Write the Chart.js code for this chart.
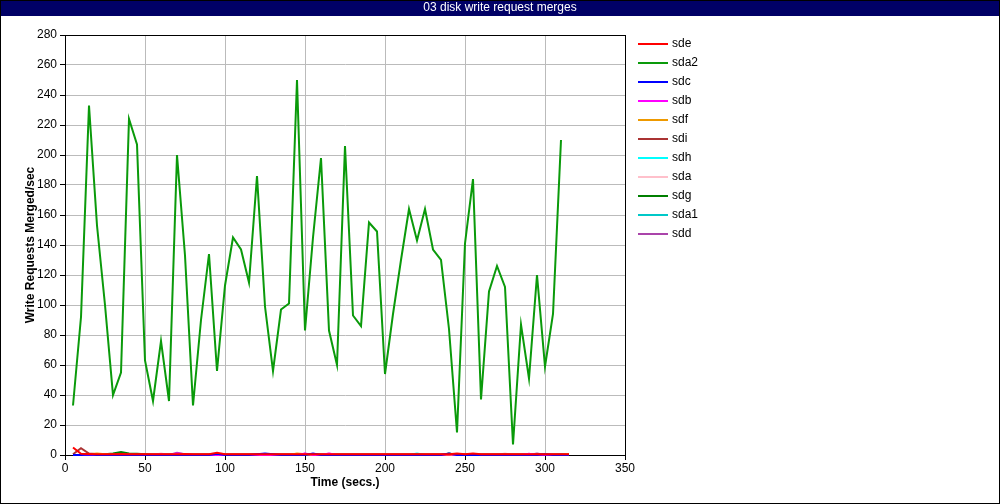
<!DOCTYPE html>
<html>
<head>
<meta charset="utf-8">
<script src="https://cdn.jsdelivr.net/npm/chart.js@4/dist/chart.umd.min.js"></script>
<style>
  body { margin: 0; background: #fff; }
  #wrap { width: 1000px; height: 504px; }
</style>
</head>
<body>
<div id="wrap"><canvas id="merges" width="1000" height="504"></canvas></div>
<script>
"use strict";

// time stamps (secs.)
var times = [5, 10, 15, 20, 25, 30, 35, 40, 45, 50, 55, 60, 65, 70, 75, 80, 85, 90, 95, 100,
  105, 110, 115, 120, 125, 130, 135, 140, 145, 150, 155, 160, 165, 170, 175, 180, 185, 190, 195, 200,
  205, 210, 215, 220, 225, 230, 235, 240, 245, 250, 255, 260, 265, 270, 275, 280, 285, 290, 295, 300,
  305, 310, 315];

var xTicks = [0, 50, 100, 150, 200, 250, 300, 350];
var yTicks = [0, 20, 40, 60, 80, 100, 120, 140, 160, 180, 200, 220, 240, 260, 280];

var devices = ["sde", "sda2", "sdc", "sdb", "sdf", "sdi", "sdh", "sda", "sdg", "sda1", "sdd"];
var colours = ["#ff0000", "#0a9a0a", "#0000ff", "#ff00ff", "#ee9900", "#aa3333", "#00ffff",
  "#ffc0cb", "#007f00", "#00c8c8", "#aa44aa"];

var sde = [5, 0.8, 0.6, 0.5, 0.5, 0.5, 0.6, 0.5, 0.5, 0.5, 0.5, 0.5, 0.5, 0.5, 0.6, 0.5, 0.5, 0.5, 1.5, 0.5,
  0.5, 0.5, 0.5, 0.5, 0.5, 0.5, 0.5, 0.5, 0.5, 0.5, 0.5, 0.5, 0.5, 0.5, 0.5, 0.5, 0.5, 0.5, 0.5, 0.5,
  0.5, 0.5, 0.5, 0.5, 0.5, 0.5, 0.5, 0.5, 1, 0.5, 1, 0.5, 0.5, 0.5, 0.5, 0.5, 0.5, 0.5, 0.5, 0.5,
  0.5, 0.5, 0.5];
var sda2 = [33, 92, 233, 153, 100, 40, 55, 224, 207, 63, 36, 76, 36, 200, 133, 33, 90, 134, 56, 113,
  145, 137, 115, 186, 99, 56, 97, 101, 250, 83, 145, 198, 83, 60, 206, 93, 86, 155, 149, 54,
  94, 130, 164, 143, 164, 137, 130, 84, 15, 141, 184, 37, 109, 126, 112, 7, 87, 51, 120, 59,
  94, 210];
var sdc = [0, 0, 0.3, 0, 0, 0, 0, 0, 0, 0, 0, 0, 0, 0, 0, 0, 0, 0, 0.8, 0,
  0, 0, 0, 0.5, 1, 0.5, 0, 0, 0, 0, 1, 0, 0, 0, 0, 0, 0, 0, 0, 0,
  0, 0, 0, 0, 0, 0, 0, 1, 0, 0, 0, 0, 0, 0, 0, 0, 0, 0, 0, 0.5,
  0, 0, 0];
var sdb = [0, 0, 0, 0, 0, 0, 0, 0, 0, 0, 0, 0.3, 0, 1, 0.5, 0, 0, 0, 0, 0,
  0, 0, 0, 0, 0, 0, 0, 0, 0, 1, 0, 0, 1, 0, 0, 0, 0, 0, 0, 0,
  0, 0, 0, 0, 0, 0, 0, 0.5, 0, 0, 0, 0, 0, 0, 0, 0, 0, 0.8, 0, 0,
  0, 0, 0];
var sdf = [0, 0, 0.5, 1, 0.5, 0, 0, 0, 0, 0, 0, 0, 0, 0, 0, 0, 0, 0, 0, 0,
  0, 0, 0, 0, 0, 0, 0, 0, 1, 0.5, 0, 0, 0, 0, 0, 0, 0, 0, 0, 0,
  0, 0, 0, 0, 0, 0, 0, 0, 0, 0, 0, 0, 0, 0, 0, 0, 0, 0, 0, 0,
  0, 0, 0.5];
var sdi = [0.5, 4.5, 1, 0.5, 0.5, 0.5, 0.5, 0.5, 0.5, 0.5, 0.5, 0.5, 0.5, 0.5, 0.5, 0.5, 0.5, 0.5, 0.5, 0.5,
  0.5, 0.5, 0.5, 0.5, 0.5, 0.5, 0.5, 0.5, 0.5, 0.5, 0.5, 0.5, 0.5, 0.5, 0.5, 0.5, 0.5, 0.5, 0.5, 0.5,
  0.5, 0.5, 0.5, 0.5, 0.5, 0.5, 0.5, 0.5, 0.5, 0.5, 0.5, 0.5, 0.5, 0.5, 0.5, 0.5, 0.5, 0.5, 0.5, 0.5,
  0.5, 0.5, 0.5];
var sdh = [0, 0, 0, 0, 0, 0, 0, 0, 0, 0, 0, 0, 0, 0, 0, 0, 0, 0, 0, 0,
  0, 0, 0, 0, 0, 0, 0, 0, 0, 0, 0, 0, 0, 0, 0, 0, 0, 0, 0, 0,
  0, 0, 0, 1, 0, 0, 0, 0, 0, 0, 0, 0, 0, 0, 0, 0, 0, 0, 0, 0,
  0, 0.5, 0];
var sda = [0, 0, 0, 0, 0, 0, 0, 0, 0, 0, 0, 1, 0, 0, 0, 0, 0, 0, 0, 0,
  0, 0, 0, 0, 0, 0, 0, 0, 0, 0, 0, 0, 1, 0, 0, 0, 0, 0, 0, 0,
  0, 0, 0, 0, 0, 0, 0, 0, 0, 0, 0, 0, 0, 0, 1, 0, 0, 0, 0, 0,
  0, 0, 0];
var sdg = [0, 0, 0, 0, 0.5, 1, 2, 1, 0.8, 0.5, 0, 0, 0, 0, 0, 0, 0, 0, 0, 0,
  0, 0, 0, 0, 0, 0, 0, 0, 0, 0, 0, 0, 0, 0, 0, 0, 0, 0, 0, 0,
  0, 0, 0, 0, 0, 0, 0, 1, 0, 0, 0, 0, 0, 0, 0, 0, 0, 0, 0, 0,
  0, 0, 0];
var sda1 = [0, 0, 0, 0, 0, 0, 0, 0, 0, 0, 0, 0, 0, 0, 0, 0, 0, 0, 0, 0,
  0, 0, 0, 0, 0, 0, 0, 0, 0, 0, 0, 0, 0, 0, 0, 0, 0, 0, 0, 0,
  0, 0, 0, 0, 0, 0, 0, 0, 0, 0, 0, 0, 0, 0, 0, 0, 0, 0, 0, 0,
  0, 0, 0];
var sdd = [0, 0, 0, 0, 0, 0, 0.5, 0, 0, 0, 0, 0, 0, 1.5, 0.5, 0, 0, 0, 0, 0,
  0, 0, 0, 0, 0, 0, 0, 0, 0, 0.8, 0, 0, 0, 0, 0, 0, 0, 0, 0, 0,
  0, 0, 0, 0, 0, 0, 0, 0, 0, 0, 0, 0, 0, 0, 0, 0, 0, 0, 1, 0,
  0, 0, 0];

var series = [sde, sda2, sdc, sdb, sdf, sdi, sdh, sda, sdg, sda1, sdd];

function points(vals)
{
  var out = [];
  for (var i = 0; i < vals.length; i++) {
    out.push({x: times[i], y: vals[i]});
  }
  return out;
}

var FONT = "'Liberation Sans', Arial, sans-serif";

// title bar, plot frame, outer border and legend
var framePlugin = {
  id: "frame",
  beforeDraw: function(chart) {
    var c = chart.ctx;
    c.save();
    c.fillStyle = "#fff";
    c.fillRect(0, 0, 1000, 504);
    c.fillStyle = "#000066";
    c.fillRect(0, 0, 1000, 16);
    c.fillStyle = "#fff";
    c.font = "12px " + FONT;
    c.textAlign = "center";
    c.textBaseline = "middle";
    c.fillText("03 disk write request merges", 500, 8);
    c.restore();
  },
  beforeDatasetsDraw: function(chart) {
    var a = chart.chartArea;
    var c = chart.ctx;
    c.save();
    c.strokeStyle = "#000";
    c.lineWidth = 1;
    c.strokeRect(Math.round(a.left) + 0.5, Math.round(a.top) + 0.5,
      Math.round(a.right - a.left), Math.round(a.bottom - a.top));
    c.restore();
  },
  afterDraw: function(chart) {
    var c = chart.ctx;
    c.save();
    c.strokeStyle = "#000";
    c.lineWidth = 1;
    c.strokeRect(0.5, 0.5, 999, 503);
    c.font = "12px " + FONT;
    c.textBaseline = "middle";
    c.textAlign = "left";
    for (var i = 0; i < devices.length; i++) {
      var y = 44 + i * 19;
      c.strokeStyle = colours[i];
      c.lineWidth = 2;
      c.beginPath();
      c.moveTo(638, y);
      c.lineTo(668, y);
      c.stroke();
      c.fillStyle = "#000";
      c.fillText(devices[i], 672, y);
    }
    c.restore();
  }
};

var datasets = [];
for (var d = 0; d < devices.length; d++) {
  datasets.push({
    label: devices[d],
    data: points(series[d]),
    borderColor: colours[d],
    backgroundColor: colours[d],
    borderWidth: 2,
    pointRadius: 0,
    tension: 0,
    clip: 3
  });
}

new Chart(document.getElementById("merges").getContext("2d"), {
  type: "line",
  data: { datasets: datasets },
  plugins: [framePlugin],
  options: {
    responsive: false,
    animation: false,
    events: [],
    layout: { padding: { top: 35, right: 375, bottom: 0, left: 0 } },
    plugins: {
      legend: { display: false },
      title: { display: false },
      tooltip: { enabled: false }
    },
    scales: {
      x: {
        type: "linear",
        min: 0,
        max: 350,
        afterBuildTicks: function(s) { s.ticks = xTicks.map(function(v) { return {value: v}; }); },
        afterFit: function(s) { s.height = 49; },
        grid: { color: "#bbbbbb", tickColor: "#000", tickLength: 5, lineWidth: 1 },
        border: { color: "#000" },
        ticks: { color: "#000", font: { family: FONT, size: 12 }, padding: 1, maxRotation: 0 },
        title: {
          display: true,
          text: "Time (secs.)",
          color: "#000",
          font: { family: FONT, size: 12, weight: "bold" },
          padding: { top: 0, bottom: 14 }
        }
      },
      y: {
        min: 0,
        max: 280,
        afterBuildTicks: function(s) { s.ticks = yTicks.map(function(v) { return {value: v}; }); },
        afterFit: function(s) { s.width = 65; },
        grid: { color: "#bbbbbb", tickColor: "#000", tickLength: 5, lineWidth: 1 },
        border: { color: "#000" },
        ticks: { color: "#000", font: { family: FONT, size: 12 }, padding: 3 },
        title: {
          display: true,
          text: "Write Requests Merged/sec",
          color: "#000",
          font: { family: FONT, size: 12, weight: "bold" },
          padding: { top: 23, bottom: 0 }
        }
      }
    }
  }
});
</script>
</body>
</html>
